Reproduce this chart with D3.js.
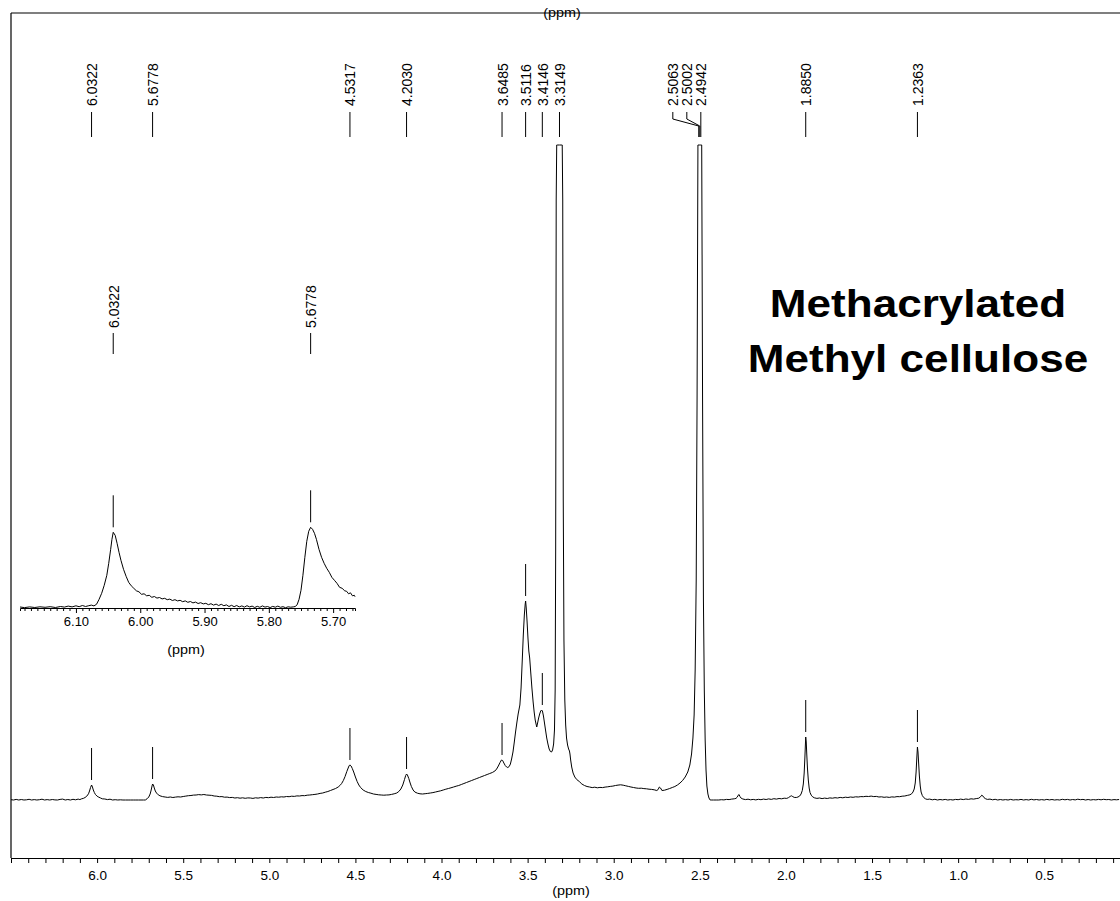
<!DOCTYPE html>
<html><head><meta charset="utf-8">
<script src="https://cdn.jsdelivr.net/npm/d3@7"></script>
<style>
body{margin:0;background:#fff}
svg{display:block}
text{font-family:"Liberation Sans",Arial,Helvetica,sans-serif;fill:#000}
</style>
</head><body>
<svg id="chart" width="1120" height="901"></svg>
<script>
// ---------- DATA ----------
// main 1H NMR spectrum: [chemical shift (ppm), intensity (a.u.)]
const spectrum = [
[6.50,0.3],[6.485,-0.4],[6.47,0.6],[6.455,-0.2],[6.44,0.5],[6.425,-0.6],[6.41,0.2],[6.395,0.7],[6.38,-0.3],[6.365,0.4],[6.35,-0.5],[6.335,0.3],[6.32,0.8],[6.305,-0.2],[6.29,0.4],[6.275,-0.6],[6.26,0.5],[6.245,0.1],[6.23,-0.4],[6.215,0.6],[6.20,0.9],[6.185,-0.1],[6.17,0.5],[6.155,-0.3],[6.14,0.7],[6.125,0.2],[6.11,0.9],[6.10,0.4],[6.09,1.2],[6.08,1.6],[6.07,2.5],[6.06,3.8],[6.05,6.2],[6.044,9],[6.038,12.5],[6.032,15],[6.027,13],[6.022,10],[6.016,7.5],[6.01,5.6],[6.0,3.8],[5.99,2.8],[5.98,2],[5.97,1.2],[5.955,1.0],[5.94,0.4],[5.925,0.8],[5.91,-0.2],[5.895,0.3],[5.88,-0.5],[5.865,0.2],[5.85,-0.6],[5.835,0],[5.82,-0.8],[5.805,-0.3],[5.79,-0.9],[5.775,-0.4],[5.76,-0.8],[5.745,-0.2],[5.73,-0.6],[5.72,0],[5.71,1.2],[5.70,3],[5.692,6],[5.686,10],[5.681,14],[5.6778,16],[5.673,15],[5.668,12],[5.662,9],[5.655,7],[5.645,5.2],[5.635,4.2],[5.62,3.4],[5.605,3.0],[5.59,2.6],[5.575,3.0],[5.56,2.5],[5.545,2.9],[5.53,3.2],[5.515,3.0],[5.50,3.5],[5.485,3.9],[5.47,4.3],[5.455,4.5],[5.44,4.9],[5.425,5.0],[5.41,5.4],[5.395,5.1],[5.38,5.5],[5.365,5.0],[5.35,4.8],[5.335,4.6],[5.32,4.0],[5.305,3.8],[5.29,3.3],[5.275,3.4],[5.26,2.8],[5.245,2.9],[5.23,2.4],[5.215,2.6],[5.20,2.0],[5.185,2.3],[5.17,1.8],[5.155,2.2],[5.14,1.7],[5.125,2.1],[5.11,2.0],[5.095,1.6],[5.08,2.2],[5.065,1.9],[5.05,2.4],[5.035,2.0],[5.02,2.6],[5.005,2.3],[4.99,2.8],[4.975,2.5],[4.96,3.0],[4.945,2.8],[4.93,3.2],[4.915,3.0],[4.90,3.5],[4.885,3.3],[4.87,3.8],[4.855,3.6],[4.84,4.1],[4.825,4.0],[4.81,4.4],[4.795,4.3],[4.78,4.8],[4.765,5.0],[4.75,5.3],[4.735,5.6],[4.72,6.0],[4.705,6.6],[4.69,7.0],[4.675,7.8],[4.66,8.5],[4.645,9.5],[4.63,10.5],[4.615,11.5],[4.60,13],[4.59,14.5],[4.58,16.5],[4.57,19.5],[4.56,23.5],[4.55,28.5],[4.542,32],[4.536,34.5],[4.531,35],[4.525,34],[4.518,31.5],[4.51,28],[4.50,23],[4.49,18.5],[4.48,15],[4.47,12.5],[4.455,10],[4.44,8.5],[4.425,7.5],[4.41,6.8],[4.395,6.0],[4.38,5.6],[4.365,5.2],[4.35,5.0],[4.335,4.8],[4.32,5.0],[4.305,5.1],[4.29,5.6],[4.275,6.2],[4.26,7.0],[4.248,8.5],[4.236,11],[4.225,15],[4.215,20.5],[4.208,24.5],[4.203,26],[4.198,25],[4.19,21.5],[4.182,17],[4.175,13.5],[4.165,10],[4.155,8],[4.14,6.8],[4.125,6.2],[4.11,6.0],[4.095,6.3],[4.08,6.6],[4.065,7.0],[4.05,7.4],[4.035,8.0],[4.02,8.6],[4.005,9.2],[3.99,10],[3.975,10.8],[3.96,11.5],[3.945,12.2],[3.93,13],[3.915,13.8],[3.90,14.5],[3.885,15.5],[3.87,16.5],[3.855,17.5],[3.84,18.5],[3.825,19.5],[3.81,20.5],[3.795,21.5],[3.78,22.5],[3.765,23.5],[3.75,24.5],[3.735,25.5],[3.72,26.5],[3.705,27.5],[3.69,29],[3.68,31],[3.67,34],[3.66,37.5],[3.652,40],[3.645,39.5],[3.638,37],[3.63,34.5],[3.622,33],[3.615,32.5],[3.607,33.5],[3.60,36],[3.593,41],[3.585,48],[3.578,57],[3.57,68],[3.562,78],[3.555,86],[3.545,95],[3.538,112],[3.531,140],[3.525,165],[3.519,185],[3.514,196],[3.5116,199],[3.508,192],[3.503,178],[3.498,162],[3.493,149],[3.488,142],[3.482,128],[3.475,112],[3.468,98],[3.462,88],[3.456,80],[3.451,76],[3.447,73],[3.442,77],[3.436,82],[3.43,86],[3.424,89],[3.419,90],[3.414,89],[3.408,84],[3.402,77],[3.396,70],[3.389,62],[3.382,56],[3.375,51],[3.368,48.5],[3.361,48],[3.355,50],[3.349,56],[3.344,70],[3.34,110],[3.337,250],[3.334,600],[3.331,1100],[3.325,1800],[3.315,2200],[3.305,1800],[3.299,1100],[3.296,600],[3.293,300],[3.289,160],[3.284,100],[3.279,75],[3.274,62],[3.268,55],[3.262,51],[3.257,49],[3.254,46],[3.25,40],[3.244,33],[3.236,27],[3.226,23],[3.215,20.5],[3.2,18.5],[3.185,16],[3.17,14.5],[3.155,13.5],[3.14,13],[3.125,12.4],[3.11,12.8],[3.095,12.2],[3.08,12.6],[3.065,12.4],[3.05,12.9],[3.035,13.2],[3.02,13.6],[3.005,13.9],[2.99,14.5],[2.975,14.9],[2.96,15.2],[2.945,14.8],[2.93,14.2],[2.915,13.6],[2.90,13.0],[2.885,12.5],[2.87,12],[2.855,11.7],[2.84,11.8],[2.825,11.4],[2.81,11.2],[2.795,10.8],[2.78,10.6],[2.765,10.2],[2.75,9.5],[2.742,10.5],[2.735,13],[2.728,12],[2.72,9.5],[2.705,9.8],[2.69,10.6],[2.675,11.5],[2.66,12.5],[2.645,13.5],[2.63,15],[2.615,17],[2.60,19.5],[2.585,23],[2.57,28],[2.558,35],[2.548,46],[2.54,62],[2.533,85],[2.527,130],[2.521,220],[2.516,400],[2.511,800],[2.505,1500],[2.50,1800],[2.495,1500],[2.489,800],[2.484,400],[2.479,200],[2.474,110],[2.469,60],[2.464,30],[2.459,14],[2.453,6],[2.447,2],[2.44,-0.5],[2.43,-1.5],[2.42,-1.2],[2.405,-0.6],[2.39,-0.2],[2.375,0.3],[2.36,0.1],[2.345,0.6],[2.33,0.4],[2.315,0.9],[2.30,1.2],[2.29,1.6],[2.283,2.8],[2.277,4.8],[2.272,5.5],[2.267,3.5],[2.26,1.8],[2.25,1.0],[2.235,0.4],[2.22,0.8],[2.205,0.2],[2.19,0.6],[2.175,0.1],[2.16,0.7],[2.145,0.3],[2.13,0.9],[2.115,0.5],[2.10,1.1],[2.085,0.6],[2.07,1.3],[2.055,0.9],[2.04,1.5],[2.025,1.2],[2.01,1.8],[1.995,1.6],[1.985,2.4],[1.975,3.6],[1.968,4.2],[1.96,3.4],[1.952,2.6],[1.94,2.5],[1.93,3.0],[1.92,4.0],[1.912,6],[1.905,9.5],[1.899,16],[1.894,27],[1.89,42],[1.887,55],[1.885,63],[1.882,58],[1.879,46],[1.875,32],[1.87,20],[1.865,12],[1.86,7.5],[1.853,4.8],[1.845,3.2],[1.835,2.2],[1.82,1.6],[1.805,2.0],[1.79,1.4],[1.775,1.9],[1.76,1.5],[1.745,2.1],[1.73,1.8],[1.715,2.3],[1.70,2.0],[1.685,2.6],[1.67,2.2],[1.655,2.8],[1.64,2.5],[1.625,3.0],[1.61,2.7],[1.595,3.2],[1.58,3.0],[1.565,3.4],[1.55,3.3],[1.535,3.7],[1.52,3.5],[1.505,3.9],[1.49,3.4],[1.475,3.6],[1.46,3.0],[1.445,3.2],[1.43,2.7],[1.415,3.0],[1.40,2.6],[1.385,3.1],[1.37,2.9],[1.355,3.4],[1.34,3.3],[1.325,3.8],[1.31,4.0],[1.295,4.6],[1.28,5.2],[1.27,6.2],[1.262,8],[1.255,11],[1.249,17],[1.244,28],[1.24,42],[1.2363,53],[1.233,48],[1.229,36],[1.225,24],[1.22,14],[1.215,8],[1.208,4.5],[1.20,2.5],[1.19,1.2],[1.18,0.6],[1.165,0.9],[1.15,0.2],[1.135,0.7],[1.12,-0.2],[1.105,0.5],[1.09,0.1],[1.075,0.6],[1.06,-0.1],[1.045,0.4],[1.03,0],[1.015,0.6],[1.0,0.3],[0.985,0.9],[0.97,0.4],[0.955,1.0],[0.94,0.6],[0.925,1.2],[0.91,0.9],[0.895,1.4],[0.88,1.8],[0.87,3.2],[0.863,4.8],[0.857,4.2],[0.85,2.4],[0.84,1.2],[0.83,0.6],[0.815,0.9],[0.80,0.2],[0.785,0.7],[0.77,0],[0.755,0.5],[0.74,-0.3],[0.725,0.4],[0.71,0],[0.695,0.6],[0.68,-0.2],[0.665,0.3],[0.65,0.1],[0.635,0.6],[0.62,-0.2],[0.605,0.4],[0.59,0],[0.575,0.7],[0.56,0.1],[0.545,0.5],[0.53,-0.3],[0.515,0.4],[0.50,0],[0.485,0.6],[0.47,0.1],[0.455,0.5],[0.44,-0.2],[0.425,0.3],[0.41,0],[0.395,0.7],[0.38,0.2],[0.365,0.6],[0.35,-0.1],[0.335,0.5],[0.32,0.1],[0.305,0.8],[0.29,0.3],[0.275,0.6],[0.26,0],[0.245,0.5],[0.23,-0.2],[0.215,0.4],[0.20,0.1],[0.185,0.6],[0.17,0.2],[0.155,0.7],[0.14,0.3],[0.125,0.5],[0.11,0],[0.095,0.4],[0.08,0.2],[0.065,0.5]
];

// peak picks of the main spectrum (ppm)
const peakValues = [6.0322, 5.6778, 4.5317, 4.2030, 3.6485, 3.5116, 3.4146, 3.3149, 2.5063, 2.5002, 2.4942, 1.8850, 1.2363];
const peakLabels = ["6.0322","5.6778","4.5317","4.2030","3.6485","3.5116","3.4146","3.3149","2.5063","2.5002","2.4942","1.8850","1.2363"];

// main axis
const axisDomain = [6.5, 0.06];
const majorTickLabels = [6.0, 5.5, 5.0, 4.5, 4.0, 3.5, 3.0, 2.5, 2.0, 1.5, 1.0, 0.5];
const axisTitle = "(ppm)";
const intensityMax = 655;   // vertical full scale (tall peaks are clipped)

// inset: expansion of the vinyl region
const insetSpectrum = [
[6.187,0.3],[6.18,-0.3],[6.172,0.4],[6.164,-0.2],[6.156,0.5],[6.148,0],[6.14,0.6],[6.132,-0.2],[6.124,0.8],[6.118,0.2],[6.112,1.2],[6.106,0.4],[6.10,1.5],[6.095,0.6],[6.09,1.8],[6.085,0.8],[6.08,1.6],[6.076,2.2],[6.072,1.4],[6.068,3],[6.064,8],[6.06,14],[6.056,22],[6.052,32],[6.049,44],[6.046,58],[6.044,68],[6.042,75],[6.039,72],[6.036,64],[6.033,55],[6.03,47],[6.026,38],[6.022,31],[6.018,25],[6.014,21.5],[6.01,19],[6.006,16.5],[6.002,15.5],[5.998,13],[5.994,13.5],[5.99,11.5],[5.986,12],[5.982,10],[5.978,10.8],[5.974,9.2],[5.97,9.8],[5.966,8.4],[5.962,9],[5.958,7.6],[5.954,8.2],[5.95,6.8],[5.946,7.6],[5.942,6.4],[5.938,7],[5.934,5.6],[5.93,6.4],[5.926,5],[5.922,5.8],[5.918,4.4],[5.914,5.2],[5.91,3.8],[5.906,4.6],[5.902,3.4],[5.898,4],[5.894,2.6],[5.89,3.6],[5.886,2.2],[5.882,3.2],[5.878,1.8],[5.874,3],[5.87,1.6],[5.866,2.4],[5.862,0.8],[5.858,2],[5.854,0.6],[5.85,1.8],[5.846,0.4],[5.842,1.4],[5.838,0.2],[5.834,1.6],[5.83,0.4],[5.826,1.2],[5.822,-0.2],[5.818,1],[5.814,0],[5.81,1.4],[5.806,0.2],[5.802,0.8],[5.798,-0.3],[5.794,0.9],[5.79,0.1],[5.786,1.2],[5.782,0],[5.778,0.6],[5.774,-0.4],[5.77,0.5],[5.766,0.1],[5.762,0.4],[5.759,0.8],[5.756,2.5],[5.753,8],[5.75,17],[5.747,32],[5.744,50],[5.741,66],[5.738,76],[5.735,80],[5.732,78],[5.729,74],[5.726,68],[5.722,58],[5.718,50],[5.714,44],[5.71,39],[5.706,35],[5.702,30],[5.698,27],[5.694,24],[5.69,20],[5.686,19],[5.682,16.5],[5.679,16],[5.676,13.5],[5.673,14.5],[5.67,11.5],[5.667,12],[5.666,10.6]
];
const insetPeakPositions = [6.042, 5.735];   // as read on the inset axis
const insetPeakLabels = ["6.0322", "5.6778"];
const insetDomain = [6.187, 5.666];
const insetTickLabels = [6.10, 6.00, 5.90, 5.80, 5.70];
const insetIntensityMax = 80;

const titleLines = ["Methacrylated", "Methyl cellulose"];

// ---------- DRAWING ----------
const svg = d3.select("#chart");
const L = 11, R = 1120, TOP = 13, AXY = 858;
const x = d3.scaleLinear().domain(axisDomain).range([L, R]);
const y = d3.scaleLinear().domain([0, intensityMax]).range([800, 145]).clamp(true);

// frame: top rule and left rule
svg.append("path").attr("d", `M${L},${TOP}H${R}`).attr("stroke","#000").attr("stroke-width",1.2).attr("fill","none");
svg.append("path").attr("d", `M${L},${TOP}V${AXY}`).attr("stroke","#000").attr("stroke-width",1.2).attr("fill","none");
svg.append("text").attr("transform", "translate(562,16.5) scale(1.2,1)").attr("text-anchor","middle")
  .attr("font-size", 12).text(axisTitle);

// bottom axis
const tickVals = d3.range(65, 0, -1).map(d => d / 10);
const axis = d3.axisBottom(x).tickValues(tickVals).tickSize(5).tickSizeOuter(0)
  .tickFormat(d => majorTickLabels.some(m => Math.abs(m - d) < 1e-6) ? d3.format(".1f")(d) : "");
const gAx = svg.append("g").attr("transform", `translate(0,${AXY})`).call(axis);
gAx.select(".domain").attr("stroke-width", 1.2);
gAx.selectAll("text").attr("font-size", 13.5).attr("font-family","Liberation Sans, Arial, sans-serif").attr("dy","1.0em");
svg.append("text").attr("transform", "translate(571,895) scale(1.2,1)").attr("text-anchor","middle")
  .attr("font-size", 12).text(axisTitle);

// spectrum
const line = d3.line().x(d => x(d[0])).y(d => y(d[1]));
svg.append("path").datum(spectrum).attr("d", line)
  .attr("fill","none").attr("stroke","#000").attr("stroke-width",1).attr("stroke-linejoin","round");

// peak-pick markers just above each resolved peak
function localMax(data, p, w) {
  let m = -Infinity;
  data.forEach(d => { if (Math.abs(d[0] - p) <= w) m = Math.max(m, d[1]); });
  return m;
}
peakValues.forEach(p => {
  const h = localMax(spectrum, p, 0.012);
  if (h >= intensityMax) return;
  const yt = y(h);
  svg.append("line").attr("x1", x(p)).attr("x2", x(p)).attr("y1", yt - 5).attr("y2", yt - 37)
    .attr("stroke","#000").attr("stroke-width",1);
});

// peak labels along the top (spread where crowded, right to left)
const labelPos = [];
let prev = Infinity;
const order = peakValues.map((p, i) => i).sort((a, b) => peakValues[a] - peakValues[b]);
order.forEach(i => {
  const px = x(peakValues[i]);
  const lx = Math.min(px, prev - 14);
  labelPos[i] = lx; prev = lx;
});
peakValues.forEach((p, i) => {
  const px = x(p), lx = labelPos[i];
  svg.append("text").attr("transform", `translate(${lx + 0.5},106) rotate(-90)`)
    .attr("dominant-baseline","central").attr("font-size", 14).text(peakLabels[i]);
  const d = Math.abs(lx - px) < 0.5
    ? `M${px},112V137`
    : `M${lx},112V119L${px},126V137`;
  svg.append("path").attr("d", d).attr("fill","none").attr("stroke","#000").attr("stroke-width",1);
});

// ---------- INSET ----------
const xi = d3.scaleLinear().domain(insetDomain).range([20, 355]);
const yi = d3.scaleLinear().domain([0, insetIntensityMax]).range([607.3, 527.3]);
const insetTicks = d3.range(618, 566, -1).map(d => d / 100);
const iAxis = d3.axisBottom(xi).tickValues(insetTicks).tickSizeOuter(0)
  .tickSize(3)
  .tickFormat(d => insetTickLabels.some(m => Math.abs(m - d) < 1e-6) ? d3.format(".2f")(d) : "");
const gI = svg.append("g").attr("transform","translate(0,608)").call(iAxis);
gI.selectAll(".tick line").attr("y2", d => insetTickLabels.some(m => Math.abs(m - d) < 1e-6) ? 5 : 3);
gI.selectAll("text").attr("font-size", 13).attr("font-family","Liberation Sans, Arial, sans-serif").attr("dy","0.9em");
svg.append("text").attr("transform", "translate(186,654) scale(1.2,1)").attr("text-anchor","middle").attr("font-size", 12).text(axisTitle);

svg.append("path").datum(insetSpectrum)
  .attr("d", d3.line().x(d => xi(d[0])).y(d => yi(d[1])))
  .attr("fill","none").attr("stroke","#000").attr("stroke-width",1).attr("stroke-linejoin","round");

insetPeakPositions.forEach((p, i) => {
  const h = localMax(insetSpectrum, p, 0.004);
  const px = xi(p), yt = yi(h);
  svg.append("line").attr("x1",px).attr("x2",px).attr("y1",yt - 5).attr("y2",yt - 37)
    .attr("stroke","#000").attr("stroke-width",1);
  svg.append("path").attr("d", `M${px},333V354`).attr("stroke","#000").attr("stroke-width",1);
  svg.append("text").attr("transform", `translate(${px + 0.5},328) rotate(-90)`)
    .attr("dominant-baseline","central").attr("font-size", 14).text(insetPeakLabels[i]);
});

// ---------- TITLE ----------
titleLines.forEach((t, i) => {
  svg.append("text").attr("transform", `translate(918,${317 + i * 55}) scale(1.16,1)`)
    .attr("text-anchor","middle").attr("font-size", 38).attr("font-weight","bold").text(t);
});
</script>
</body></html>
